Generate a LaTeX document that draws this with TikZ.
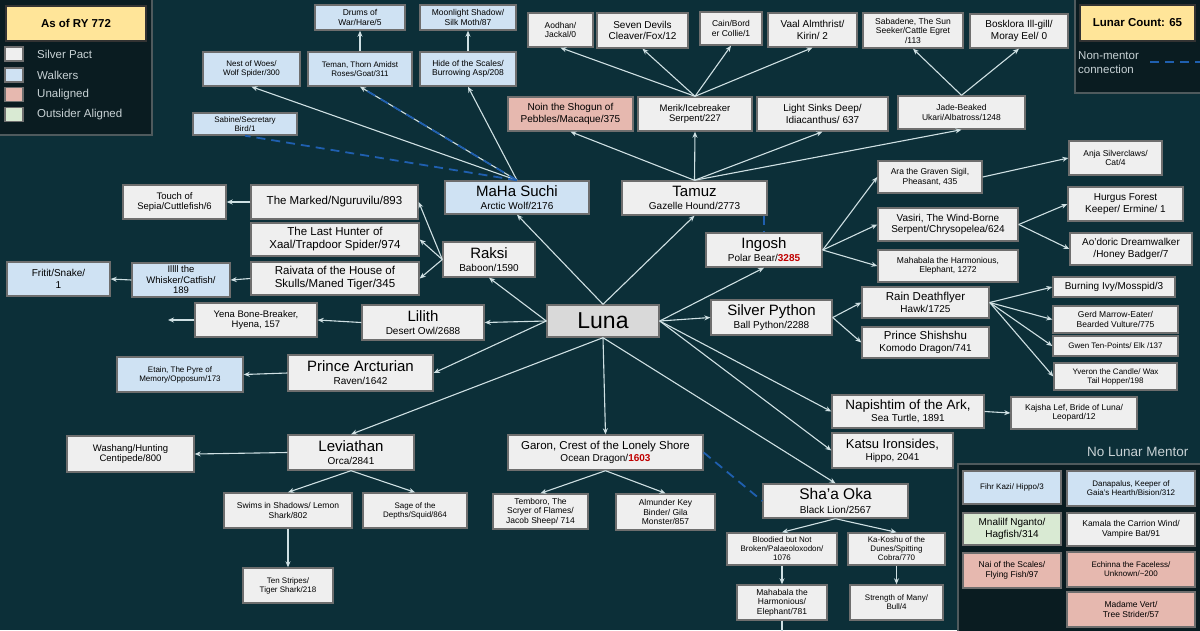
\documentclass[tikz,border=0pt]{standalone}
\usepackage{fontspec}
\setmainfont{Liberation Sans}
\usetikzlibrary{arrows.meta}

\definecolor{bgc}{HTML}{0C2F38}
\definecolor{panelc}{HTML}{0A1C21}
\definecolor{panelline}{HTML}{4F5A5D}
\definecolor{boxline}{HTML}{6E6E6E}
\definecolor{silverc}{HTML}{EFEFEF}
\definecolor{lunac}{HTML}{D9D9D9}
\definecolor{walkerc}{HTML}{CFE2F3}
\definecolor{unalc}{HTML}{E6B8AF}
\definecolor{outsc}{HTML}{D9EAD3}
\definecolor{yellowc}{HTML}{FFE599}
\definecolor{linec}{HTML}{CFE0E3}
\definecolor{dashc}{HTML}{1F5FAF}
\definecolor{numred}{HTML}{C00000}
\definecolor{keytext}{HTML}{C8D2D5}

\newcommand{\beast}[1]{{\fontsize{10}{11}\selectfont #1}}
\newcommand{\redn}[1]{\textcolor{numred}{\textbf{#1}}}

\tikzset{
  box/.style={draw=boxline, line width=1.4pt, align=center, inner sep=1pt, text=black},
  silver/.style={box, fill=silverc},
  walker/.style={box, fill=walkerc},
  unal/.style={box, fill=unalc},
  outs/.style={box, fill=outsc},
  main/.style={font=\fontsize{15}{15}\selectfont},
  t8/.style={font=\fontsize{8}{9}\selectfont},
  t85/.style={font=\fontsize{8.5}{9.5}\selectfont},
  t9/.style={font=\fontsize{9}{10}\selectfont},
  t95/.style={font=\fontsize{9.5}{10.5}\selectfont},
  t10/.style={font=\fontsize{10}{11.5}\selectfont},
  t115/.style={font=\fontsize{11.5}{13}\selectfont},
  keylabel/.style={text=keytext, font=\fontsize{11.5}{14}\selectfont, inner sep=0pt, anchor=west, align=left},
  link/.style={draw=linec, line width=1.1pt, -{Stealth[length=6pt,width=5pt]}},
  nonmentor/.style={draw=dashc, line width=1.8pt, dash pattern=on 9pt off 6pt},
}

\begin{document}
\begin{tikzpicture}[x=1pt, y=-1pt]
    \useasboundingbox (0,0) rectangle (1200,630);
    \fill[bgc] (0,0) rectangle (1200,630);

    % Legenda
    \filldraw[fill=panelc, draw=panelline, line width=1.5pt] (-2,-2) rectangle (152,135);
    \node[box, fill=yellowc, draw=black!80, font=\bfseries\fontsize{11.5}{13}\selectfont, minimum width=140, minimum height=35] (asof) at (76,23.5) {As of RY 772};
    \node[silver, minimum width=18, minimum height=14] (keysilver) at (14,54) {};
    \node[walker, minimum width=18, minimum height=14] (keywalker) at (14,75) {};
    \node[unal, minimum width=18, minimum height=14] (keyunal) at (14,94.5) {};
    \node[outs, minimum width=18, minimum height=14] (keyouts) at (14,114.5) {};
    \node[keylabel] (keysilvertext) at (37,54) {Silver Pact};
    \node[keylabel] (keywalkertext) at (37,75) {Walkers};
    \node[keylabel] (keyunaltext) at (37,94.5) {Unaligned};
    \node[keylabel] (keyoutstext) at (37,114.5) {Outsider Aligned};

    \filldraw[fill=panelc, draw=panelline, line width=1.5pt] (1075,-2) rectangle (1202,93);
    \node[box, fill=yellowc, draw=black!80, font=\bfseries\fontsize{11.5}{13}\selectfont, minimum width=115, minimum height=36] (count) at (1137.5,23) {Lunar Count: 65};
    \node[keylabel] (keynm) at (1078,63) {Non-mentor\\connection};
    \coordinate (keya) at (1150,62);
    \coordinate (keyb) at (1202,62);
    \draw[nonmentor] (keya) -- (keyb);

    % Luna e i primi allievi
    \node[box, fill=lunac, font=\fontsize{23}{25}\selectfont, minimum width=112, minimum height=32] (luna) at (603,321) {Luna};
    \node[walker, main, minimum width=144, minimum height=33] (maha) at (517,197.5) {MaHa Suchi\\[-2pt]\beast{Arctic Wolf/2176}};
    \node[silver, main, minimum width=145, minimum height=34] (tamuz) at (694.5,198) {Tamuz\\[-2pt]\beast{Gazelle Hound/2773}};
    \node[silver, main, minimum width=116, minimum height=34] (ingosh) at (764,250) {Ingosh\\[-2pt]\beast{Polar Bear/\redn{3285}}};
    \node[silver, main, minimum width=121, minimum height=35] (python) at (771.5,317.5) {Silver Python\\[-2pt]\beast{Ball Python/2288}};
    \node[silver, main, minimum width=92, minimum height=35] (raksi) at (489,259.5) {Raksi\\[-2pt]\beast{Baboon/1590}};
    \node[silver, main, minimum width=122, minimum height=35] (lilith) at (423,322.5) {Lilith\\[-2pt]\beast{Desert Owl/2688}};
    \node[silver, main, minimum width=145, minimum height=36] (arcturian) at (360.5,373) {Prince Arcturian\\[-2pt]\beast{Raven/1642}};
    \node[silver, main, minimum width=126, minimum height=35] (leviathan) at (351,452.5) {Leviathan\\[-2pt]\beast{Orca/2841}};
    \node[silver, font=\fontsize{11.5}{13}\selectfont, minimum width=195, minimum height=35] (garon) at (605.5,452.5) {Garon, Crest of the Lonely Shore\\[-1pt]\beast{Ocean Dragon/\redn{1603}}};
    \node[silver, font=\fontsize{13.5}{14}\selectfont, minimum width=152, minimum height=33] (napishtim) at (908,411.5) {Napishtim of the Ark,\\[-2pt]\beast{Sea Turtle, 1891}};
    \node[silver, font=\fontsize{13}{14}\selectfont, minimum width=121, minimum height=35] (katsu) at (892.5,450.5) {Katsu Ironsides,\\[-2pt]\beast{Hippo, 2041}};
    \node[silver, font=\fontsize{15.5}{15.5}\selectfont, minimum width=145, minimum height=34] (shaa) at (835.5,501) {Sha'a Oka\\[-2pt]\beast{Black Lion/2567}};

    % Ramo di MaHa Suchi
    \node[walker, t8, minimum width=97, minimum height=34] (nest) at (251.5,69) {Nest of Woes/\\Wolf Spider/300};
    \node[walker, t8, minimum width=104, minimum height=22] (sabine) at (245,124) {Sabine/Secretary\\Bird/1};
    \node[walker, t8, minimum width=104, minimum height=34] (teman) at (360,69) {Teman, Thorn Amidst\\Roses/Goat/311};
    \node[walker, t85, minimum width=90, minimum height=25] (drums) at (360,17.5) {Drums of\\War/Hare/5};
    \node[walker, t85, minimum width=96, minimum height=34] (hide) at (468,69) {Hide of the Scales/\\Burrowing Asp/208};
    \node[walker, t85, minimum width=96, minimum height=25] (moonlight) at (468,17.5) {Moonlight Shadow/\\Silk Moth/87};

    % Ramo di Tamuz
    \node[unal, t10, minimum width=125, minimum height=34] (noin) at (570.5,114) {Noin the Shogun of\\Pebbles/Macaque/375};
    \node[silver, t95, minimum width=114, minimum height=34] (merik) at (695,114) {Merik/Icebreaker\\Serpent/227};
    \node[silver, t10, minimum width=131, minimum height=34] (lightsinks) at (822.5,114) {Light Sinks Deep/\\Idiacanthus/ 637};
    \node[silver, t85, minimum width=127, minimum height=33] (jade) at (961.5,112.5) {Jade-Beaked\\Ukari/Albatross/1248};
    \node[silver, t85, minimum width=65, minimum height=34] (aodhan) at (560.5,30) {Aodhan/\\Jackal/0};
    \node[silver, t10, minimum width=91, minimum height=35] (sevendevils) at (642.5,30.5) {Seven Devils\\Cleaver/Fox/12};
    \node[silver, t85, minimum width=62, minimum height=33] (cain) at (731,28.5) {Cain/Bord\\er Collie/1};
    \node[silver, t10, minimum width=89, minimum height=34] (vaal) at (812.5,30) {Vaal Almthrist/\\Kirin/ 2};
    \node[silver, t85, minimum width=100, minimum height=35] (sabadene) at (913,30.5) {Sabadene, The Sun\\Seeker/Cattle Egret\\/113};
    \node[silver, t10, minimum width=98, minimum height=34] (bosklora) at (1019,31) {Bosklora Ill-gill/\\Moray Eel/ 0};

    % Ramo di Ingosh
    \node[silver, t85, minimum width=104, minimum height=32] (ara) at (930,177) {Ara the Graven Sigil,\\Pheasant, 435};
    \node[silver, t10, minimum width=140, minimum height=33] (vasiri) at (948,224.5) {Vasiri, The Wind-Borne\\Serpent/Chrysopelea/624};
    \node[silver, t85, minimum width=140, minimum height=32] (mahabalaone) at (948,266) {Mahabala the Harmonious,\\Elephant, 1272};
    \node[silver, t85, minimum width=93, minimum height=34] (anja) at (1115.5,158) {Anja Silverclaws/\\Cat/4};
    \node[silver, t10, minimum width=115, minimum height=34] (hurgus) at (1125.5,204) {Hurgus Forest\\Keeper/ Ermine/ 1};
    \node[silver, t10, minimum width=122, minimum height=32] (aodoric) at (1131,249) {Ao'doric Dreamwalker\\/Honey Badger/7};

    % Ramo di Silver Python
    \node[silver, font=\fontsize{11.5}{12.5}\selectfont, minimum width=127, minimum height=31] (rain) at (925.5,302.5) {Rain Deathflyer\\[-1pt]\beast{Hawk/1725}};
    \node[silver, font=\fontsize{11.5}{12.5}\selectfont, minimum width=127, minimum height=31] (shishshu) at (925.5,342.5) {Prince Shishshu\\[-1pt]\beast{Komodo Dragon/741}};
    \node[silver, t10, minimum width=122, minimum height=20] (burning) at (1114,287) {Burning Ivy/Mosspid/3};
    \node[silver, t85, minimum width=125, minimum height=27] (gerd) at (1115.5,319.5) {Gerd Marrow-Eater/\\Bearded Vulture/775};
    \node[silver, t8, minimum width=125, minimum height=20] (gwen) at (1115.5,346) {Gwen Ten-Points/ Elk /137};
    \node[silver, t8, minimum width=123, minimum height=27] (yveron) at (1115.5,376.5) {Yveron the Candle/ Wax\\Tail Hopper/198};
    \node[silver, t85, minimum width=126, minimum height=32] (kajsha) at (1074,413) {Kajsha Lef, Bride of Luna/\\Leopard/12};

    % Ramo di Raksi, Lilith e Prince Arcturian
    \node[silver, t115, minimum width=167, minimum height=34] (marked) at (334.5,202) {The Marked/Nguruvilu/893};
    \node[silver, t115, minimum width=168, minimum height=33] (lasthunter) at (335,239.5) {The Last Hunter of\\Xaal/Trapdoor Spider/974};
    \node[silver, t115, minimum width=168, minimum height=33] (raivata) at (335,278.5) {Raivata of the House of\\Skulls/Maned Tiger/345};
    \node[silver, t95, minimum width=103, minimum height=34] (touch) at (174.5,202) {Touch of\\Sepia/Cuttlefish/6};
    \node[walker, t95, minimum width=98, minimum height=34] (illll) at (181,280) {Illll the\\Whisker/Catfish/\\189};
    \node[walker, t10, minimum width=103, minimum height=34] (fritit) at (58.5,279) {Fritit/Snake/\\1};
    \node[silver, t95, minimum width=122, minimum height=34] (yena) at (256,320) {Yena Bone-Breaker,\\Hyena, 157};
    \coordinate (yenaend) at (168,320);
    \node[walker, t8, minimum width=126, minimum height=35] (etain) at (180,374.5) {Etain, The Pyre of\\Memory/Opposum/173};

    % Ramo di Leviathan e Garon
    \node[silver, t95, minimum width=127, minimum height=36] (washang) at (130.5,454) {Washang/Hunting\\Centipede/800};
    \node[silver, t85, minimum width=128, minimum height=35] (swims) at (288,510.5) {Swims in Shadows/ Lemon\\Shark/802};
    \node[silver, t8, minimum width=104, minimum height=35] (sage) at (415,510.5) {Sage of the\\Depths/Squid/864};
    \node[silver, t8, minimum width=90, minimum height=35] (tenstripes) at (288,585.5) {Ten Stripes/\\Tiger Shark/218};
    \node[silver, t85, minimum width=95, minimum height=35] (temboro) at (540.5,511.5) {Temboro, The\\Scryer of Flames/\\Jacob Sheep/ 714};
    \node[silver, t85, minimum width=99, minimum height=36] (almunder) at (665.5,512) {Almunder Key\\Binder/ Gila\\Monster/857};

    % Ramo di Sha'a Oka
    \node[silver, t8, minimum width=110, minimum height=32] (bloodied) at (782,549) {Bloodied but Not\\Broken/Palaeoloxodon/\\1076};
    \node[silver, t8, minimum width=97, minimum height=32] (kakoshu) at (896.5,549) {Ka-Koshu of the\\Dunes/Spitting\\Cobra/770};
    \node[silver, t85, minimum width=90, minimum height=35] (mahabalatwo) at (782,602.5) {Mahabala the\\Harmonious/\\Elephant/781};
    \coordinate (mahabalaend) at (782,632);
    \node[silver, t8, minimum width=93, minimum height=35] (strength) at (896.5,602.5) {Strength of Many/\\Bull/4};

    % Senza mentore lunare
    \node[keylabel, font=\fontsize{13.5}{15}\selectfont] (nomentor) at (1087,452) {No Lunar Mentor};
    \filldraw[fill=panelc, draw=panelline, line width=1.5pt] (958,464) rectangle (1202,632);
    \node[walker, t8, minimum width=98, minimum height=33] (fihr) at (1012,487.5) {Fihr Kazi/ Hippo/3};
    \node[walker, t8, minimum width=128, minimum height=35] (danapalus) at (1131,488.5) {Danapalus, Keeper of\\Gaia's Hearth/Bision/312};
    \node[outs, t10, minimum width=98, minimum height=32] (mnalilf) at (1012,529) {Mnalilf Nganto/\\Hagfish/314};
    \node[silver, t85, minimum width=128, minimum height=33] (kamala) at (1131,529.5) {Kamala the Carrion Wind/\\Vampire Bat/91};
    \node[unal, t85, minimum width=98, minimum height=35] (nai) at (1012,570.5) {Nai of the Scales/\\Flying Fish/97};
    \node[unal, t8, minimum width=128, minimum height=35] (echinna) at (1131,569.5) {Echinna the Faceless/\\Unknown/\textasciitilde200};
    \node[unal, t85, minimum width=128, minimum height=35] (madame) at (1131,609.5) {Madame Vert/\\Tree Strider/57};

    % Frecce da Luna
    \draw[link] (luna.north) -- (maha.south);
    \draw[link] (luna.north) -- (tamuz.south);
    \draw[link] (luna.west) -- (raksi.south);
    \draw[link] (luna.west) -- (lilith.east);
    \draw[link] (luna.west) -- (arcturian.east);
    \draw[link] (luna.south) -- (leviathan.north);
    \draw[link] (luna.south) -- (garon.north);
    \draw[link] (luna.south) -- (shaa.north);
    \draw[link] (luna.east) -- (ingosh.south);
    \draw[link] (luna.east) -- (python.west);
    \draw[link] (luna.east) -- (napishtim.west);
    \draw[link] (luna.east) -- (katsu.west);

    % Frecce dei rami
    \draw[link] (maha.north) -- (nest.south);
    \draw[link] (maha.north) -- (teman.south);
    \draw[link] (maha.north) -- (hide.south);
    \draw[link] (teman.north) -- (drums.south);
    \draw[link] (hide.north) -- (moonlight.south);
    \draw[link] (tamuz.north) -- (noin.south);
    \draw[link] (tamuz.north) -- (merik.south);
    \draw[link] (tamuz.north) -- (lightsinks.south);
    \draw[link] (tamuz.north) -- (jade.south);
    \draw[link] (merik.north) -- (aodhan.south);
    \draw[link] (merik.north) -- (sevendevils.south);
    \draw[link] (merik.north) -- (cain.south);
    \draw[link] (merik.north) -- (vaal.south);
    \draw[link] (jade.north) -- (sabadene.south);
    \draw[link] (jade.north) -- (bosklora.south);
    \draw[link] (ingosh.east) -- (ara.west);
    \draw[link] (ingosh.east) -- (vasiri.west);
    \draw[link] (ingosh.east) -- (mahabalaone.west);
    \draw[link] (ara.east) -- (anja.west);
    \draw[link] (vasiri.east) -- (hurgus.west);
    \draw[link] (vasiri.east) -- (aodoric.west);
    \draw[link] (python.east) -- (rain.west);
    \draw[link] (python.east) -- (shishshu.west);
    \draw[link] (rain.east) -- (burning.west);
    \draw[link] (rain.east) -- (gerd.west);
    \draw[link] (rain.east) -- (gwen.west);
    \draw[link] (rain.east) -- (yveron.west);
    \draw[link] (napishtim.east) -- (kajsha.west);
    \draw[link] (raksi.west) -- (marked.east);
    \draw[link] (raksi.west) -- (lasthunter.east);
    \draw[link] (raksi.west) -- (raivata.east);
    \draw[link] (marked.west) -- (touch.east);
    \draw[link] (raivata.west) -- (illll.east);
    \draw[link] (illll.west) -- (fritit.east);
    \draw[link] (lilith.west) -- (yena.east);
    \draw[link] (yena.west) -- (yenaend);
    \draw[link] (arcturian.west) -- (etain.east);
    \draw[link] (leviathan.west) -- (washang.east);
    \draw[link] (leviathan.south) -- (swims.north);
    \draw[link] (leviathan.south) -- (sage.north);
    \draw[link] (swims.south) -- (tenstripes.north);
    \draw[link] (garon.south) -- (temboro.north);
    \draw[link] (garon.south) -- (almunder.north);
    \draw[link] (shaa.south) -- (bloodied.north);
    \draw[link] (shaa.south) -- (kakoshu.north);
    \draw[link] (bloodied.south) -- (mahabalatwo.north);
    \draw[link] (kakoshu.south) -- (strength.north);
    \draw[draw=linec, line width=1.1pt] (mahabalatwo.south) -- (mahabalaend);

    % Collegamenti non di mentore
    \draw[nonmentor] (maha.north) -- (sabine.south);
    \draw[nonmentor, shorten >=7pt] (maha.north) -- (teman.south);
    \draw[nonmentor] (tamuz.south -| ingosh.north) -- (ingosh.north);
    \draw[nonmentor] (garon.east) -- (shaa.west);
\end{tikzpicture}
\end{document}
